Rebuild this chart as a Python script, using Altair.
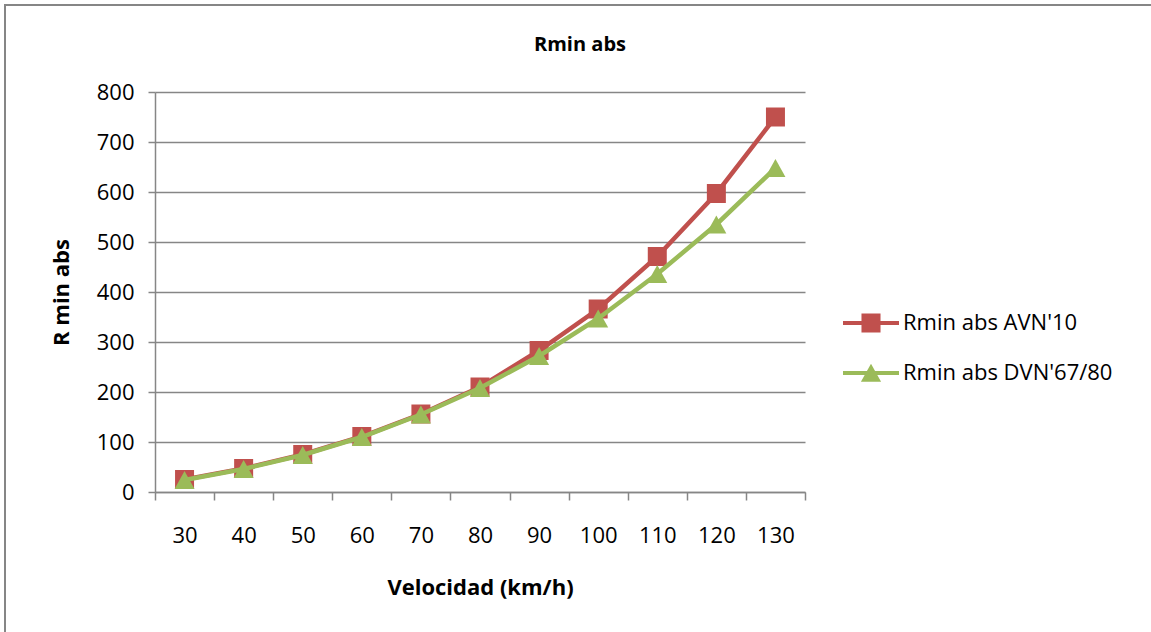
import altair as alt
import pandas as pd

# ---- data ----
velocidad = [30, 40, 50, 60, 70, 80, 90, 100, 110, 120, 130]
rmin_avn10 = [25, 47, 75, 111, 156, 210, 283, 366, 471, 597, 750]
rmin_dvn6780 = [24, 46, 74, 110, 155, 208, 272, 347, 436, 535, 648]
series_names = ["Rmin abs AVN'10", "Rmin abs DVN'67/80"]
series_colors = ["#C0504D", "#9BBB59"]
y_ticks = [0, 100, 200, 300, 400, 500, 600, 700, 800]
chart_title = "Rmin abs"

df = pd.DataFrame({
    "Velocidad": velocidad + velocidad,
    "R": rmin_avn10 + rmin_dvn6780,
    "Serie": [series_names[0]] * len(velocidad) + [series_names[1]] * len(velocidad),
})

FONT = "Open Sans"
GRAY = "#868686"

TRI_PATH = "M0,-0.9L1,0.9L-1,0.9Z"
LEG_SQUARE = ("M-1,-0.075L1,-0.075L1,0.075L-1,0.075Z "
              "M-0.34,-0.34L0.34,-0.34L0.34,0.34L-0.34,0.34Z")
LEG_TRI = ("M-1,-0.075L1,-0.075L1,0.075L-1,0.075Z "
           "M0,-0.33L0.36,0.31L-0.36,0.31Z")

x_enc = alt.X(
    "Velocidad:O",
    bandPosition=0.5,
    scale=alt.Scale(type="band", paddingInner=0, paddingOuter=0),
    axis=alt.Axis(
        title="Velocidad (km/h)",
        labelAngle=0,
        tickBand="extent",
        grid=False,
        tickSize=8,
        labelPadding=25,
        titlePadding=31,
    ),
)
y_enc = alt.Y(
    "R:Q",
    scale=alt.Scale(domain=[0, 800], nice=False, zero=True),
    axis=alt.Axis(
        title="R min abs",
        values=y_ticks,
        grid=True,
        tickSize=7,
        labelPadding=14,
        titlePadding=23,
    ),
)

base = alt.Chart(df).encode(x=x_enc, y=y_enc)

line_avn = base.transform_filter(alt.datum.Serie == series_names[0]).mark_line(
    color=series_colors[0], strokeWidth=4.5)
pts_avn = base.transform_filter(alt.datum.Serie == series_names[0]).mark_point(
    shape="square", filled=True, size=361, color=series_colors[0], opacity=1)
line_dvn = base.transform_filter(alt.datum.Serie == series_names[1]).mark_line(
    color=series_colors[1], strokeWidth=4.5)
pts_dvn = base.transform_filter(alt.datum.Serie == series_names[1]).mark_point(
    shape=TRI_PATH, filled=True, size=400, color=series_colors[1], opacity=1)

legend_def = alt.Legend(
    title=None,
    orient="none",
    legendX=688,
    legendY=203,
    padding=0,
    symbolSize=3136,
    symbolOpacity=1,
    symbolStrokeWidth=0,
    labelFont=FONT,
    labelFontSize=22,
    labelColor="black",
    labelOffset=4,
    rowPadding=11,
    labelLimit=400,
)

legend_layer = base.mark_point(filled=True, opacity=0).encode(
    color=alt.Color("Serie:N", scale=alt.Scale(domain=series_names, range=series_colors),
                    legend=legend_def),
    shape=alt.Shape("Serie:N", scale=alt.Scale(domain=series_names, range=[LEG_SQUARE, LEG_TRI]),
                    legend=legend_def),
)

border = alt.Chart(alt.Data(values=[{}])).mark_rect(
    fillOpacity=0, stroke=GRAY, strokeWidth=2
).encode(
    x=alt.value(-150), x2=alt.value(1010), y=alt.value(-87), y2=alt.value(560)
)

title_layer = alt.Chart(alt.Data(values=[{"t": chart_title}])).mark_text(
    font=FONT, fontSize=20, fontWeight="bold", color="black",
    align="center", baseline="middle"
).encode(
    text="t:N", x=alt.value(425), y=alt.value(-47)
)

chart = alt.layer(
    border, title_layer, line_avn, pts_avn, line_dvn, pts_dvn, legend_layer
).properties(
    width=650,
    height=400,
    autosize=alt.AutoSizeParams(type="none"),
    padding={"left": 155, "top": 92, "right": 346, "bottom": 140},
    background="white",
).configure_view(
    stroke=None
).configure_axis(
    domainColor=GRAY,
    domainWidth=1.5,
    tickColor=GRAY,
    tickWidth=1.5,
    gridColor=GRAY,
    gridWidth=1.3,
    labelFont=FONT,
    labelFontSize=22,
    labelColor="black",
    titleFont=FONT,
    titleFontSize=22,
    titleFontWeight="bold",
    titleColor="black",
)

chart.save("out.html", embed_options={"renderer": "svg", "actions": False})
